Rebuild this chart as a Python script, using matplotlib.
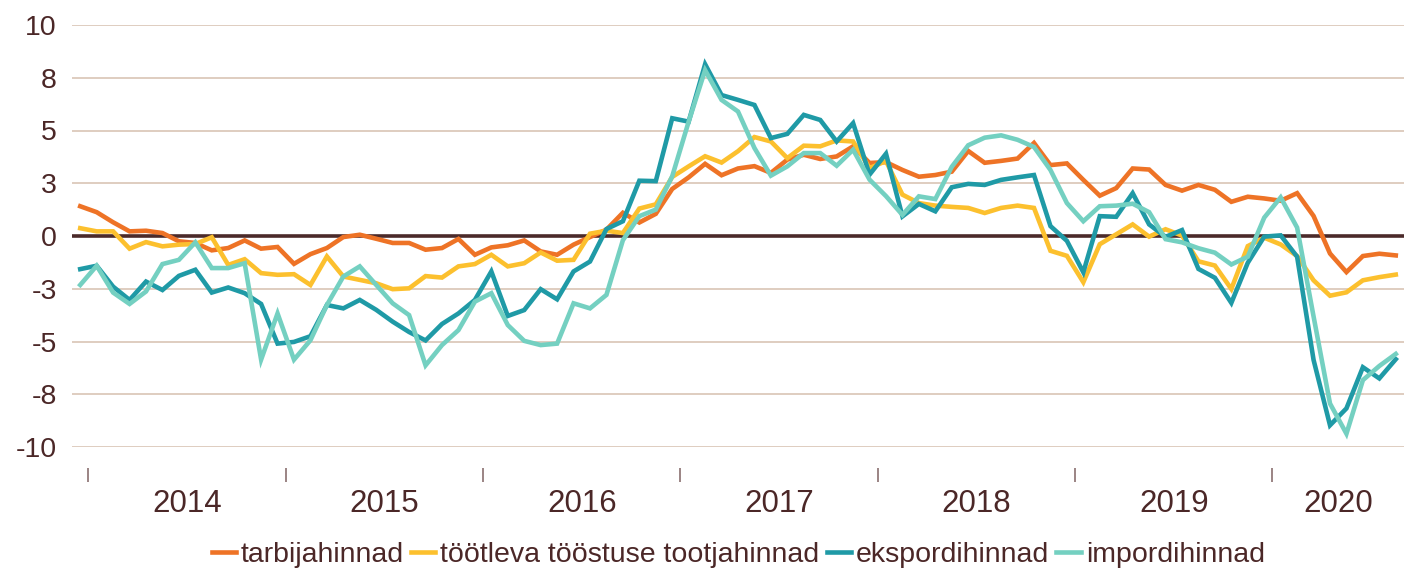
import numpy as np
import pandas as pd
import matplotlib
matplotlib.use("Agg")
import matplotlib.pyplot as plt
from matplotlib.ticker import FixedLocator, FuncFormatter

# monthly series, Dec 2013 .. Aug 2020
months = pd.date_range("2013-12-01", periods=81, freq="MS")

tarbijahinnad = [
    1.41, 1.13, 0.65, 0.22, 0.25, 0.14, -0.25, -0.33, -0.68, -0.57,
    -0.21, -0.60, -0.52, -1.32, -0.86, -0.57, -0.05, 0.06, -0.13, -0.33,
    -0.33, -0.65, -0.57, -0.14, -0.89, -0.54, -0.44, -0.21, -0.73, -0.89,
    -0.41, -0.05, 0.30, 1.10, 0.64, 1.05, 2.23, 2.78, 3.42, 2.88,
    3.20, 3.31, 2.99, 3.62, 3.85, 3.65, 3.77, 4.25, 3.46, 3.50,
    3.13, 2.81, 2.89, 3.05, 4.03, 3.47, 3.56, 3.67, 4.41, 3.36,
    3.44, 2.66, 1.91, 2.27, 3.20, 3.15, 2.42, 2.15, 2.42, 2.19,
    1.62, 1.86, 1.78, 1.67, 2.03, 0.95, -0.83, -1.71, -0.95, -0.84,
    -0.92,
]
tootjahinnad = [
    0.37, 0.22, 0.22, -0.60, -0.29, -0.49, -0.41, -0.38, -0.06, -1.37,
    -1.10, -1.76, -1.84, -1.81, -2.32, -0.97, -1.92, -2.08, -2.24, -2.52,
    -2.48, -1.90, -1.97, -1.44, -1.33, -0.89, -1.44, -1.29, -0.78, -1.17,
    -1.13, 0.11, 0.25, 0.14, 1.30, 1.50, 2.80, 3.30, 3.78, 3.48,
    4.02, 4.69, 4.48, 3.69, 4.28, 4.25, 4.53, 4.48, 3.22, 3.55,
    1.96, 1.56, 1.44, 1.38, 1.33, 1.09, 1.33, 1.44, 1.33, -0.70,
    -0.94, -2.19, -0.39, 0.08, 0.55, -0.03, 0.32, 0.02, -1.20, -1.40,
    -2.51, -0.48, -0.08, -0.40, -0.95, -2.10, -2.83, -2.67, -2.10, -1.95,
    -1.83,
]
ekspordihinnad = [
    -1.57, -1.41, -2.40, -3.03, -2.16, -2.56, -1.89, -1.60, -2.68, -2.44,
    -2.71, -3.22, -5.10, -5.02, -4.75, -3.27, -3.43, -3.03, -3.50, -4.06,
    -4.55, -4.95, -4.17, -3.67, -3.03, -1.68, -3.79, -3.51, -2.52, -3.00,
    -1.68, -1.21, 0.33, 0.70, 2.62, 2.60, 5.58, 5.42, 8.14, 6.68,
    6.45, 6.21, 4.64, 4.84, 5.74, 5.50, 4.48, 5.35, 2.91, 3.90,
    0.93, 1.52, 1.17, 2.31, 2.47, 2.42, 2.66, 2.78, 2.89, 0.47,
    -0.23, -1.72, 0.94, 0.91, 2.03, 0.55, -0.04, 0.28, -1.56, -1.98,
    -3.17, -1.27, -0.03, 0.03, -0.98, -5.87, -8.97, -8.17, -6.22, -6.75,
    -5.84,
]
impordihinnad = [
    -2.32, -1.41, -2.68, -3.22, -2.63, -1.33, -1.13, -0.30, -1.52, -1.52,
    -1.29, -5.86, -3.67, -5.86, -4.94, -3.27, -1.92, -1.44, -2.32, -3.19,
    -3.75, -6.13, -5.17, -4.46, -3.11, -2.71, -4.22, -4.97, -5.17, -5.10,
    -3.19, -3.43, -2.79, -0.20, 0.94, 1.25, 2.83, 5.42, 7.86, 6.45,
    5.90, 4.17, 2.86, 3.30, 3.93, 3.93, 3.33, 4.09, 2.67, 1.89,
    1.00, 1.88, 1.75, 3.28, 4.30, 4.66, 4.77, 4.56, 4.22, 3.13,
    1.56, 0.70, 1.41, 1.44, 1.53, 1.13, -0.15, -0.30, -0.58, -0.79,
    -1.35, -0.98, 0.87, 1.83, 0.40, -3.81, -7.94, -9.37, -6.83, -6.16,
    -5.59,
]

labels = ["tarbijahinnad", "töötleva tööstuse tootjahinnad",
          "ekspordihinnad", "impordihinnad"]
colors = ["#ee7326", "#fcc02e", "#1f9aa6", "#74d0c1"]
y_ticks = [-10, -7.5, -5, -2.5, 0, 2.5, 5, 7.5, 10]

text_col = "#4b2727"
plt.rcParams['font.family'] = ['Liberation Sans', 'DejaVu Sans']
plt.rcParams['font.size'] = 20.5

fig = plt.figure(figsize=(14.06, 5.70), dpi=100)
ax = fig.add_axes([72/1406, 1 - 447/570, (1404 - 72)/1406, (447 - 25)/570])

x = np.arange(len(months))
for series, lab, col in zip([tarbijahinnad, tootjahinnad, ekspordihinnad, impordihinnad],
                            labels, colors):
    ax.plot(x, series, color=col, lw=3.3, label=lab, solid_joinstyle="miter", zorder=3)

for v in y_ticks:
    if v == 0:
        ax.axhline(v, color="#4b2a2a", lw=2.6, zorder=2)
    else:
        ax.axhline(v, color="#d9c5b5", lw=1.2, zorder=1)

ax.set_xlim(-0.5, len(months) - 0.5)
ax.set_ylim(-10, 10)

# y labels rounded like the original (7.5 -> 8)
def fmt(v, pos):
    return "%d" % (np.sign(v) * np.floor(abs(v) + 0.5))

ax.yaxis.set_major_locator(FixedLocator(y_ticks))
ax.yaxis.set_major_formatter(FuncFormatter(fmt))
ax.tick_params(axis="y", length=0, pad=11, colors=text_col, labelsize=20.5)

# year boundaries and centred year labels
years = months.year
bounds = [i - 0.5 for i in range(len(months)) if months[i].month == 1]
uniq = sorted(set(years))[1:]
centers = [np.mean(x[years == yr]) for yr in uniq]
ax.xaxis.set_major_locator(FixedLocator(bounds))
ax.xaxis.set_major_formatter(FuncFormatter(lambda v, p: ""))
ax.xaxis.set_minor_locator(FixedLocator(centers))
ax.xaxis.set_minor_formatter(FuncFormatter(lambda v, p: str(uniq[p]) if p is not None else ""))
ax.tick_params(axis="x", which="major", length=10, width=1.2, color="#8a7070", direction="out")
ax.tick_params(axis="x", which="minor", length=0, pad=15, labelcolor=text_col, labelsize=22.5)
ax.spines["bottom"].set_position(("outward", 15))

for s in ax.spines.values():
    s.set_visible(False)

fig.legend(loc="center", bbox_to_anchor=(0.525, 0.026), ncol=4, frameon=False,
           handlelength=0.85, handletextpad=0.18, columnspacing=0.25,
           labelcolor=text_col, fontsize=20.5, borderaxespad=0)

fig.savefig("out.png", dpi=100)
